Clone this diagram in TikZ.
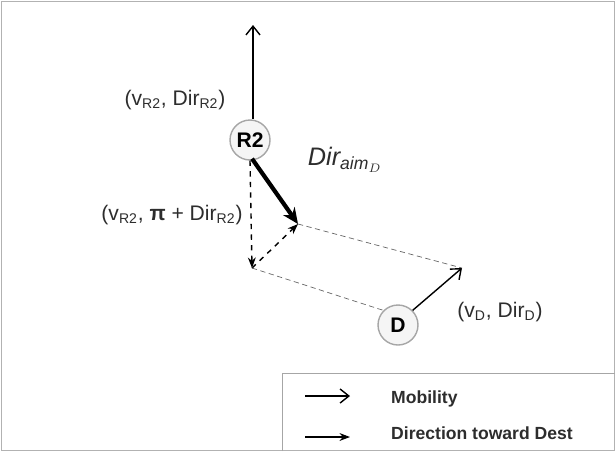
\documentclass[tikz,border=0pt]{standalone}
\usepackage{amsmath,amssymb,bm}
\usepackage{fontspec}
\setmainfont{Liberation Sans}
\usetikzlibrary{positioning,arrows,arrows.meta}
\definecolor{txtgray}{RGB}{45,45,45}

\begin{document}
\begin{tikzpicture}[x=0.02cm,y=-0.02cm,
    agent/.style={circle, draw=gray!70, fill=gray!8, thick, minimum size=0.8cm, inner sep=0pt, font=\bfseries\large},
    lbl/.style={text=txtgray, font=\large},
    mob/.style={-{Straight Barb[length=5pt,width=8pt]}, thick},
    aim/.style={-{Stealth[length=9pt,width=8pt]}, line width=2.4pt},
    dsh/.style={-{Stealth[length=6pt]}, dashed, thick},
    aux/.style={densely dashed, gray!80!black, thin}]
    \useasboundingbox (0,0) rectangle (615,451);
    \draw[gray!60] (1,1) rectangle (614,450);

    % agents
    \node[agent] (r2) at (250,140) {R2};
    \node[agent] (d) at (398,325) {D};
    \coordinate (top) at (253,25);
    \coordinate (tip) at (298,224);
    \coordinate (low) at (252,268);
    \coordinate (dend) at (462,268);

    % vectors
    \draw[mob] (r2.north) ++(3,0) -- (top);
    \draw[aim] (r2.south) ++(2,-2) -- (tip);
    \draw[dsh] (r2.south) -- (low);
    \draw[dsh] (low) -- (tip);
    \draw[mob] (d.north east) -- (dend);
    \draw[aux] (tip) -- (dend);
    \draw[aux] (low) -- (d.north west);

    % labels
    \node[lbl] (lr2) at (175,100) {(v\textsubscript{R2}, Dir\textsubscript{R2})};
    \node[lbl] (lpi) at (172,215) {(v\textsubscript{R2}, \textbf{\symbol{"03C0}} + Dir\textsubscript{R2})};
    \node[lbl, font=\Large] (laim) at (345,160) {$\mathit{Dir}_{\mathit{aim}_D}$};
    \node[lbl] (ld) at (500,312) {(v\textsubscript{D}, Dir\textsubscript{D})};

    % legend
    \draw[gray!70] (282,451) -- (282,373) -- (615,373);
    \coordinate (m1) at (305,396);
    \coordinate (m2) at (350,396);
    \coordinate (a1) at (305,437);
    \coordinate (a2) at (350,437);
    \draw[mob] (m1) -- (m2);
    \draw[-{Stealth[length=6pt]}, semithick] (a1) -- (a2);
    \node[font=\bfseries, text=txtgray, anchor=west] (lmob) at (385,399) {Mobility};
    \node[font=\bfseries, text=txtgray, anchor=west] (ldir) at (385,433) {Direction toward Dest};
\end{tikzpicture}
\end{document}
